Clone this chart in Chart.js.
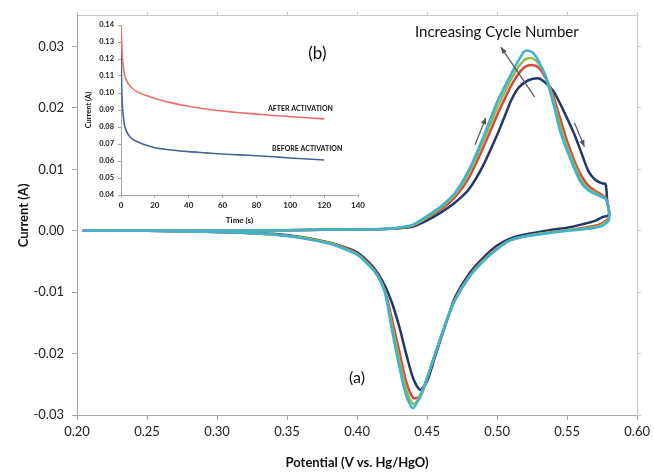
<!DOCTYPE html>
<html>
<head>
<meta charset="utf-8">
<script src="https://cdn.jsdelivr.net/npm/chart.js@4.4.1/dist/chart.umd.min.js"></script>
<style>
  body { margin: 0; background: #fff; }
  #wrap { position: relative; width: 654px; height: 473px; }
  #inset { position: absolute; left: 80px; top: 8px; }
</style>
</head>
<body>
<div id="wrap">
  <canvas id="cv" width="654" height="473"></canvas>
  <canvas id="inset" width="295" height="218"></canvas>
</div>
<script>
// ---- (a) cyclic voltammetry, 4 cycles ----
const fwdV = [0.204, 0.25, 0.30, 0.35, 0.40, 0.42, 0.43, 0.44, 0.45, 0.46, 0.47, 0.48, 0.49, 0.50, 0.505, 0.51, 0.515, 0.52, 0.525, 0.53, 0.535, 0.54, 0.545, 0.55, 0.555, 0.56, 0.565, 0.57, 0.575, 0.5775, 0.5787];
const revV = [0.5800, 0.5795, 0.575, 0.57, 0.56, 0.55, 0.54, 0.53, 0.52, 0.51, 0.50, 0.49, 0.48, 0.47, 0.465, 0.46, 0.455, 0.45, 0.445, 0.44, 0.435, 0.43, 0.425, 0.42, 0.415, 0.41, 0.40, 0.39, 0.38, 0.36, 0.34, 0.30, 0.25, 0.204];

const cycle1Fwd = [0, 0, 0, 0.0001, 0.0002, 0.0003, 0.0004, 0.0007, 0.0017, 0.0030, 0.0046, 0.0068, 0.0106, 0.0156, 0.0184, 0.0212, 0.0232, 0.0242, 0.0247, 0.0248, 0.0240, 0.0228, 0.0207, 0.0183, 0.0158, 0.0128, 0.0098, 0.0083, 0.0077, 0.0076, 0.0046];
const cycle2Fwd = [0, 0, 0, 0.0001, 0.0002, 0.0003, 0.0005, 0.0009, 0.0021, 0.0035, 0.0055, 0.0087, 0.0135, 0.0188, 0.0213, 0.0236, 0.0255, 0.0267, 0.0270, 0.0265, 0.0247, 0.0220, 0.0183, 0.0146, 0.0115, 0.0090, 0.0074, 0.0065, 0.0058, 0.0054, 0.0046];
const cycle3Fwd = [0, 0, 0, 0.0001, 0.0002, 0.0003, 0.0005, 0.0009, 0.0022, 0.0038, 0.0059, 0.0094, 0.0145, 0.0200, 0.0224, 0.0247, 0.0266, 0.0279, 0.0281, 0.0271, 0.0250, 0.0214, 0.0172, 0.0137, 0.0108, 0.0083, 0.0069, 0.0062, 0.0056, 0.0053, 0.0046];
const cycle4Fwd = [0, 0, 0, 0.0001, 0.0002, 0.0003, 0.0005, 0.0010, 0.0024, 0.0040, 0.0062, 0.0100, 0.0152, 0.0210, 0.0233, 0.0255, 0.0276, 0.0293, 0.0291, 0.0275, 0.0249, 0.0208, 0.0162, 0.0130, 0.0102, 0.0078, 0.0066, 0.0060, 0.0055, 0.0052, 0.0046];

const cycle1Rev = [0.0032, 0.0025, 0.0022, 0.0016, 0.0010, 0.0005, 0.0002, -0.0002, -0.0006, -0.0012, -0.0024, -0.0044, -0.0070, -0.0108, -0.0140, -0.0175, -0.0210, -0.0245, -0.0259, -0.0240, -0.0200, -0.0155, -0.0118, -0.0090, -0.0070, -0.0055, -0.0035, -0.0026, -0.0019, -0.0010, -0.0005, -0.0002, 0, 0];
const cycle2Rev = [0.0030, 0.0020, 0.0012, 0.0008, 0.0004, 0.0001, -0.0002, -0.0005, -0.0009, -0.0015, -0.0028, -0.0048, -0.0074, -0.0111, -0.0140, -0.0172, -0.0206, -0.0240, -0.0270, -0.0272, -0.0245, -0.0195, -0.0145, -0.0098, -0.0073, -0.0058, -0.0037, -0.0027, -0.0020, -0.0011, -0.0006, -0.0002, 0, 0];
const cycle3Rev = [0.0030, 0.0018, 0.0010, 0.0006, 0.0003, 0.0001, -0.0002, -0.0005, -0.0009, -0.0015, -0.0029, -0.0049, -0.0075, -0.0112, -0.0140, -0.0172, -0.0206, -0.0240, -0.0272, -0.0282, -0.0258, -0.0208, -0.0155, -0.0100, -0.0074, -0.0059, -0.0038, -0.0028, -0.0020, -0.0011, -0.0006, -0.0002, 0, 0];
const cycle4Rev = [0.0030, 0.0016, 0.0008, 0.0005, 0.0002, 0.0000, -0.0003, -0.0006, -0.0009, -0.0015, -0.0030, -0.0050, -0.0076, -0.0113, -0.0140, -0.0172, -0.0205, -0.0240, -0.0268, -0.0289, -0.0268, -0.0220, -0.0163, -0.0102, -0.0075, -0.0060, -0.0039, -0.0029, -0.0021, -0.0012, -0.0006, -0.0002, 0, 0];

const cycleColors = ['#1f3a68', '#d9453f', '#8fbc4a', '#3fb1d2'];

// ---- (b) chronoamperometry inset ----
const timeS = [0, 0.5, 1, 2, 3, 5, 7, 10, 15, 20, 30, 40, 50, 60, 70, 80, 90, 100, 110, 120];
const afterAct = [0.140, 0.128, 0.119, 0.111, 0.108, 0.1045, 0.1025, 0.1005, 0.0985, 0.0968, 0.0942, 0.0922, 0.0906, 0.0894, 0.0884, 0.0876, 0.0868, 0.0861, 0.0854, 0.0848];
const beforeAct = [0.126, 0.100, 0.090, 0.0815, 0.078, 0.0745, 0.0727, 0.0712, 0.0692, 0.0678, 0.0665, 0.0655, 0.0648, 0.0641, 0.0636, 0.0631, 0.0625, 0.0618, 0.0612, 0.0606];

function loop(fwd, rev) {
  const pts = fwdV.map((v, i) => ({ x: v, y: fwd[i] }));
  return pts.concat(revV.map((v, i) => ({ x: v, y: rev[i] })));
}

const cycles = [[cycle1Fwd, cycle1Rev], [cycle2Fwd, cycle2Rev], [cycle3Fwd, cycle3Rev], [cycle4Fwd, cycle4Rev]];

const FONT = 'Lato, "Open Sans", sans-serif';
const AXIS = '#a6a6a6';

function arrow(ctx, x1, y1, x2, y2) {
  const a = Math.atan2(y2 - y1, x2 - x1);
  ctx.beginPath();
  ctx.moveTo(x1, y1);
  ctx.lineTo(x2, y2);
  ctx.stroke();
  ctx.beginPath();
  ctx.moveTo(x2, y2);
  ctx.lineTo(x2 - 7 * Math.cos(a - 0.4), y2 - 7 * Math.sin(a - 0.4));
  ctx.lineTo(x2 - 7 * Math.cos(a + 0.4), y2 - 7 * Math.sin(a + 0.4));
  ctx.closePath();
  ctx.fill();
}

// text and arrows placed in data units
const notes = {
  id: 'notes',
  afterDatasetsDraw(chart) {
    const { ctx, scales: { x, y } } = chart;
    ctx.save();
    ctx.fillStyle = '#111';
    ctx.textAlign = 'center';
    ctx.textBaseline = 'middle';
    ctx.font = '15px ' + FONT;
    ctx.fillText('Increasing Cycle Number', x.getPixelForValue(0.4998), y.getPixelForValue(0.0324));
    ctx.font = '16px ' + FONT;
    ctx.fillText('(a)', x.getPixelForValue(0.4), y.getPixelForValue(-0.0239));
    ctx.strokeStyle = '#555';
    ctx.fillStyle = '#555';
    ctx.lineWidth = 1.2;
    const arrows = [[0.5268, 0.0218, 0.5027, 0.0299], [0.4842, 0.0140, 0.4920, 0.0184], [0.5552, 0.0176, 0.5623, 0.0137]];
    arrows.forEach(a => arrow(ctx, x.getPixelForValue(a[0]), y.getPixelForValue(a[1]), x.getPixelForValue(a[2]), y.getPixelForValue(a[3])));
    ctx.restore();
  }
};

new Chart(document.getElementById('cv'), {
  type: 'scatter',
  data: {
    datasets: cycles.map((c, i) => ({
      label: 'Cycle ' + (i + 1),
      data: loop(c[0], c[1]),
      showLine: true,
      borderColor: cycleColors[i],
      borderWidth: 2.5,
      pointRadius: 0,
      tension: 0.25,
      order: 4 - i
    }))
  },
  options: {
    responsive: false,
    animation: false,
    layout: { padding: 0 },
    plugins: { legend: { display: false }, tooltip: { enabled: false } },
    scales: {
      x: {
        type: 'linear', min: 0.2, max: 0.6,
        afterFit: s => { s.height = 58; },
        border: { color: AXIS },
        grid: { display: true, drawOnChartArea: false, color: AXIS, tickLength: 5 },
        ticks: { stepSize: 0.05, color: '#222', font: { family: FONT, size: 13 }, padding: 4, callback: v => v.toFixed(2) },
        title: { display: true, text: 'Potential (V vs. Hg/HgO)', color: '#111', font: { family: FONT, size: 13, weight: 'bold' }, padding: { top: 0, bottom: 2 } }
      },
      x2: {
        type: 'linear', position: 'top', min: 0.2, max: 0.6,
        afterFit: s => { s.height = 15; },
        border: { color: '#c8c8c8' },
        grid: { drawOnChartArea: false, color: '#c8c8c8', tickLength: 4 },
        ticks: { stepSize: 0.05, display: false }
      },
      y: {
        type: 'linear', min: -0.03, max: 0.035,
        afterFit: s => { s.width = 77; },
        border: { color: AXIS },
        grid: { drawOnChartArea: false, color: AXIS, tickLength: 5 },
        ticks: { stepSize: 0.01, includeBounds: false, color: '#222', font: { family: FONT, size: 13 }, padding: 8, callback: v => v.toFixed(2) },
        title: { display: true, text: 'Current (A)', color: '#111', font: { family: FONT, size: 13, weight: 'bold' }, padding: { top: 16, bottom: 0 } }
      },
      y2: {
        type: 'linear', position: 'right', min: -0.03, max: 0.035,
        afterFit: s => { s.width = 14; },
        border: { color: '#c8c8c8' },
        grid: { drawOnChartArea: false, color: '#c8c8c8', tickLength: 4 },
        ticks: { stepSize: 0.01, includeBounds: false, display: false }
      }
    }
  },
  plugins: [notes]
});

// inset labels
const insetNotes = {
  id: 'insetNotes',
  afterDatasetsDraw(chart) {
    const { ctx, scales: { x, y } } = chart;
    ctx.save();
    ctx.fillStyle = '#111';
    ctx.textAlign = 'center';
    ctx.textBaseline = 'middle';
    ctx.font = '17px ' + FONT;
    ctx.fillText('(b)', x.getPixelForValue(116), y.getPixelForValue(0.1235));
    ctx.font = 'bold 7px ' + FONT;
    ctx.fillText('AFTER ACTIVATION', x.getPixelForValue(106), y.getPixelForValue(0.0906));
    ctx.fillText('BEFORE ACTIVATION', x.getPixelForValue(110), y.getPixelForValue(0.0671));
    ctx.restore();
  }
};

new Chart(document.getElementById('inset'), {
  type: 'scatter',
  data: {
    datasets: [
      { label: 'After activation', data: timeS.map((t, i) => ({ x: t, y: afterAct[i] })), showLine: true, borderColor: '#e8716e', borderWidth: 1.6, pointRadius: 0, tension: 0.3 },
      { label: 'Before activation', data: timeS.map((t, i) => ({ x: t, y: beforeAct[i] })), showLine: true, borderColor: '#4a6494', borderWidth: 1.6, pointRadius: 0, tension: 0.3 }
    ]
  },
  options: {
    responsive: false,
    animation: false,
    layout: { padding: { top: 17, right: 17, left: 0, bottom: 0 } },
    plugins: { legend: { display: false }, tooltip: { enabled: false } },
    scales: {
      x: {
        type: 'linear', min: 0, max: 140,
        afterFit: s => { s.height = 31; },
        border: { color: AXIS },
        grid: { drawOnChartArea: false, color: AXIS, tickLength: 3 },
        ticks: { stepSize: 20, color: '#222', font: { family: FONT, size: 8, weight: 'bold' }, padding: 3 },
        title: { display: true, text: 'Time (s)', color: '#111', font: { family: FONT, size: 8, weight: 'bold' }, padding: { top: 0, bottom: 1 } }
      },
      y: {
        type: 'linear', min: 0.04, max: 0.14,
        afterFit: s => { s.width = 41; },
        border: { color: AXIS },
        grid: { drawOnChartArea: false, color: AXIS, tickLength: 3 },
        ticks: { stepSize: 0.01, color: '#222', font: { family: FONT, size: 7.5, weight: 'bold' }, padding: 4, callback: v => v.toFixed(2) },
        title: { display: true, text: 'Current (A)', color: '#111', font: { family: FONT, size: 7.5, weight: 'bold' }, padding: { top: 4, bottom: 0 } }
      }
    }
  },
  plugins: [insetNotes]
});
</script>
</body>
</html>
